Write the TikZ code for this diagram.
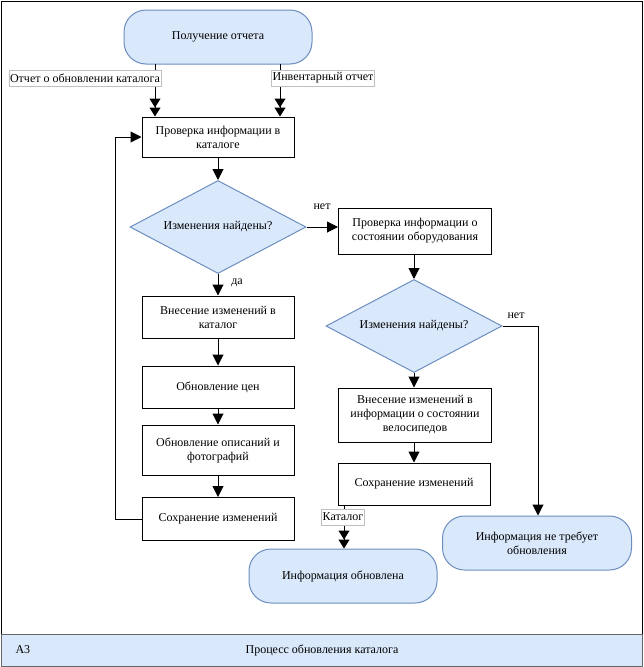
\documentclass[tikz,border=0pt]{standalone}
\usepackage{fontspec}
\setmainfont{Liberation Serif}
\newfontfamily\myserif{Liberation Serif}
\usetikzlibrary{arrows.meta,shapes.geometric,calc}
\definecolor{bfill}{HTML}{DAE8FC}
\definecolor{bdraw}{HTML}{6C8EBF}
\tikzset{
  every node/.style={font=\myserif\fontsize{12}{14}\selectfont},
  proc/.style={draw, line width=1pt, fill=white, align=center, minimum width=152pt, inner sep=2pt},
  term/.style={draw=bdraw, fill=bfill, line width=1pt, rounded corners=22pt, align=center, minimum width=188pt, minimum height=54pt},
  dec/.style={diamond, draw=bdraw, fill=bfill, line width=1pt, aspect=1.9, minimum width=176pt, minimum height=93pt, inner sep=0pt},
  lbl/.style={draw=black!25, fill=white, line width=0.5pt, inner sep=1pt, minimum height=16pt},
  arr/.style={line width=1pt, -{Triangle[length=11pt,width=11pt]}},
  darr/.style={line width=1pt, -{Triangle[length=9pt,width=11pt]Triangle[length=9pt,width=11pt]}},
}
\begin{document}
\begin{tikzpicture}[x=1pt,y=-1pt]
\useasboundingbox (0,0) rectangle (644,667);
% frame
\draw[line width=1pt] (1,1) rectangle (642,666);
\fill[bfill] (1,634) rectangle (642,666);
\draw[draw=black!60, line width=1pt] (1,634) rectangle (642,666);
\node[anchor=west] (a3) at (12,650) {A3};
\node (title) at (322,650) {Процесс обновления каталога};

% nodes
\node[term] (start) at (218,37) {Получение отчета};
\node[proc, minimum height=40pt] (b2) at (218,137) {Проверка информации в\\каталоге};
\node[dec] (d1) at (218,227) {Изменения найдены?};
\node[proc, minimum width=153pt, minimum height=46pt] (b3) at (415,231) {Проверка информации о\\состоянии оборудования};
\node[proc, minimum height=42pt] (b4) at (218,317) {Внесение изменений в\\каталог};
\node[proc, minimum height=42pt] (b5) at (218,387) {Обновление цен};
\node[proc, minimum height=50pt] (b6) at (218,450) {Обновление описаний и\\фотографий};
\node[proc, minimum height=43pt] (b7) at (218,519) {Сохранение изменений};
\node[dec] (d2) at (414,326) {Изменения найдены?};
\node[proc, minimum width=153pt, minimum height=54pt] (b8) at (415,415) {Внесение изменений в\\информации о состоянии\\велосипедов};
\node[proc, minimum height=42pt] (b9) at (414,484) {Сохранение изменений};
\node[term] (e1) at (343,576) {Информация обновлена};
\node[term, minimum width=189pt] (e2) at (537,543) {Информация не требует\\обновления};

% connectors
\coordinate (s1) at (155,64);
\coordinate (s2) at (280,64);
\draw[darr] (s1) -- (s1 |- b2.north);
\draw[darr] (s2) -- (s2 |- b2.north);
\node[lbl] (l1) at (85,78) {Отчет о обновлении каталога};
\node[lbl] (l2) at (323,78) {Инвентарный отчет};

\draw[arr] (b2) -- (d1);
\draw[arr] (d1.east) -- (d1.east -| b3.west);
\node (net1) at (322,207) {нет};
\draw[arr] (d1) -- (b4);
\node (da) at (237,283) {да};
\draw[arr] (b4) -- (b5);
\draw[arr] (b5) -- (b6);
\draw[arr] (b6) -- (b7);
\coordinate (lp) at (115,519);
\draw[arr] (b7.west) -- (lp) |- (b2.west);

\draw[arr] (b3.south -| d2.north) -- (d2.north);
\draw[arr] (d2) -- (b8.north -| d2.south);
\draw[arr] (b8.south -| b9.north) -- (b9);
\coordinate (r2) at (538,326);
\draw[arr] (d2.east) -- (r2) -- (r2 |- e2.north);
\node (net2) at (516,316) {нет};

\coordinate (c1) at (344,505);
\draw[darr] (c1) -- (c1 |- e1.north);
\node[lbl] (l3) at (343,517) {Каталог};
\end{tikzpicture}
\end{document}
